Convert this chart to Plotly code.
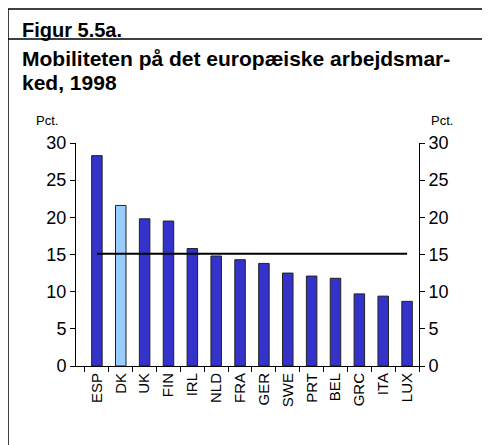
import plotly.graph_objects as go

categories = ["ESP", "DK", "UK", "FIN", "IRL", "NLD", "FRA", "GER", "SWE", "PRT", "BEL", "GRC", "ITA", "LUX"]
mobility = [28.3, 21.6, 19.8, 19.5, 15.8, 14.8, 14.3, 13.8, 12.5, 12.1, 11.8, 9.7, 9.4, 8.7]
average = [15.1] * len(categories)
y_ticks = [0, 5, 10, 15, 20, 25, 30]

# page body adds an 8px margin, so the figure is drawn 8px smaller and offset
OFF = 8
W, H = 490 - OFF, 445 - OFF
L, R, T, B = 76 - OFF, 419 - OFF, 143 - OFF, 366 - OFF

bar_colors = ["#99CCFF" if c == "DK" else "#3333CC" for c in categories]

fig = go.Figure()
fig.add_trace(go.Bar(
    x=categories, y=mobility,
    marker=dict(color=bar_colors, line=dict(color="#222222", width=1)),
    width=0.44, showlegend=False,
))
fig.add_trace(go.Scatter(
    x=categories, y=average, mode="lines",
    line=dict(color="black", width=2), showlegend=False,
))
fig.add_trace(go.Scatter(x=[categories[0]], y=[0], yaxis="y2", mode="markers",
                         marker=dict(opacity=0), showlegend=False, hoverinfo="skip"))

def px(X):
    return (X - OFF - L) / (R - L)

def py(Y):
    return (B - (Y - OFF)) / (B - T)

font = "Liberation Sans, Arial, sans-serif"

fig.update_layout(
    width=W, height=H,
    margin=dict(l=L, r=W - R, t=T, b=H - B),
    paper_bgcolor="white", plot_bgcolor="white",
    font=dict(family=font, color="black"),
    bargap=0.56,
    xaxis=dict(
        showline=True, linecolor="black", linewidth=1,
        ticks="outside", tickson="boundaries", ticklen=5, tickcolor="black",
        tickangle=-90, tickfont=dict(size=15, family=font),
        showgrid=False, fixedrange=True,
    ),
    yaxis=dict(
        range=[0, 30], tickvals=y_ticks,
        showline=True, linecolor="black", linewidth=1,
        ticks="outside", ticklen=5, tickcolor="black",
        tickfont=dict(size=18, family=font),
        showgrid=False, zeroline=False,
    ),
    yaxis2=dict(
        range=[0, 30], tickvals=y_ticks, overlaying="y", side="right",
        showline=True, linecolor="black", linewidth=1,
        ticks="outside", ticklen=5, tickcolor="black",
        tickfont=dict(size=18, family=font),
        showgrid=False, zeroline=False,
    ),
)

shapes = [
    dict(type="line", xref="paper", yref="paper", x0=px(8), x1=px(500), y0=py(9), y1=py(9),
         line=dict(color="black", width=1.5)),
    dict(type="line", xref="paper", yref="paper", x0=px(8), x1=px(500), y0=py(39), y1=py(39),
         line=dict(color="black", width=1.5)),
    dict(type="line", xref="paper", yref="paper", x0=px(8), x1=px(8), y0=py(9), y1=py(460),
         line=dict(color="black", width=1.5)),
]
fig.update_layout(shapes=shapes)

annotations = [
    dict(text="<b>Figur 5.5a.</b>", x=px(20), y=py(30), xanchor="left", yanchor="middle",
         font=dict(size=20, family=font)),
    dict(text="<b>Mobiliteten på det europæiske arbejdsmar-</b>", x=px(20), y=py(58),
         xanchor="left", yanchor="middle", font=dict(size=21, family=font)),
    dict(text="<b>ked, 1998</b>", x=px(20), y=py(82), xanchor="left", yanchor="middle",
         font=dict(size=21, family=font)),
    dict(text="Pct.", x=px(34), y=py(121), xanchor="left", yanchor="middle",
         font=dict(size=13, family=font)),
    dict(text="Pct.", x=px(429), y=py(121), xanchor="left", yanchor="middle",
         font=dict(size=13, family=font)),
]
for a in annotations:
    a.update(xref="paper", yref="paper", showarrow=False)
fig.update_layout(annotations=annotations)

fig.write_html("out.html")
